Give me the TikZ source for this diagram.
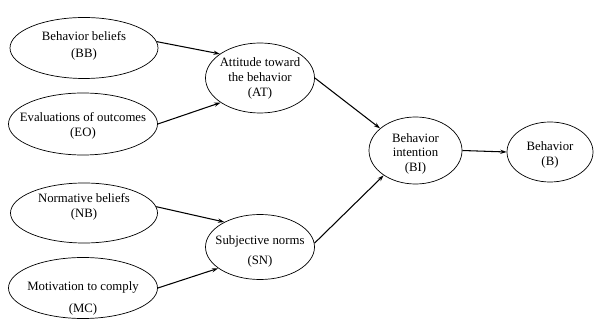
\documentclass[tikz,border=0pt]{standalone}
\usepackage{fontspec}
\setmainfont{Liberation Serif}
\usepackage{tikz}
\usetikzlibrary{shapes.geometric,arrows.meta}

% text of an oval: zero size box, lowered by #1
\newcommand{\ovtext}[2][-2.7pt]{\raisebox{#1}[0pt][0pt]{\makebox[0pt]{\begin{tabular}{@{}c@{}}#2\end{tabular}}}}

\tikzset{
    oval/.style={ellipse, draw, inner sep=0pt, line width=0.6pt,
        font=\fontsize{10.9}{12.75}\selectfont},
    link/.style={->, line width=0.9pt, >={Stealth[length=5.5pt,width=3.6pt]}}
}

\begin{document}
\begin{tikzpicture}[x=0.03cm,y=-0.03cm]
    \useasboundingbox (0,0) rectangle (595,320);
    % Draw beliefs and evaluations
    \node[oval, minimum width=4.44cm, minimum height=1.83cm] (bb) at (84,48) {\ovtext[-1pt]{Behavior beliefs\\[2.5pt](BB)}};
    \node[oval, minimum width=4.47cm, minimum height=1.86cm] (eo) at (83,124) {\ovtext[-4.4pt]{Evaluations of outcomes\\(EO)}};
    \node[oval, minimum width=4.41cm, minimum height=1.8cm] (nb) at (84,213) {\ovtext[2.4pt]{Normative beliefs\\(NB)}};
    \node[oval, minimum width=4.47cm, minimum height=1.83cm] (mc) at (83,288) {\ovtext[-12.1pt]{Motivation to comply\\[6pt](MC)}};

    % Draw attitude and norms
    \node[oval, minimum width=3.27cm, minimum height=2.1cm] (at) at (260,78) {\ovtext[-3.5pt]{Attitude toward\\the behavior\\(AT)}};
    \node[oval, minimum width=3.27cm, minimum height=1.95cm] (sn) at (260,247) {\ovtext[-7pt]{Subjective norms\\[4.3pt](SN)}};

    % Draw intention and behavior
    \node[oval, minimum width=2.79cm, minimum height=2.01cm] (bi) at (415.5,150.5) {\ovtext[-5.7pt]{Behavior\\intention\\(BI)}};
    \node[oval, minimum width=2.58cm, minimum height=1.8cm] (b) at (550,152) {\ovtext[-5.3pt]{Behavior\\(B)}};

    % Draw arrows
    \draw[link] (bb.5) -- (at.149);
    \draw[link] (eo.east) -- (at.212);
    \draw[link] (nb.5) -- (sn.145);
    \draw[link] (mc.east) -- (sn.207);
    \draw[link] (at.east) -- (bi.148);
    \draw[link] (sn.4) -- (bi.218);
    \draw[link] (bi.east) -- (b.west);
\end{tikzpicture}
\end{document}
